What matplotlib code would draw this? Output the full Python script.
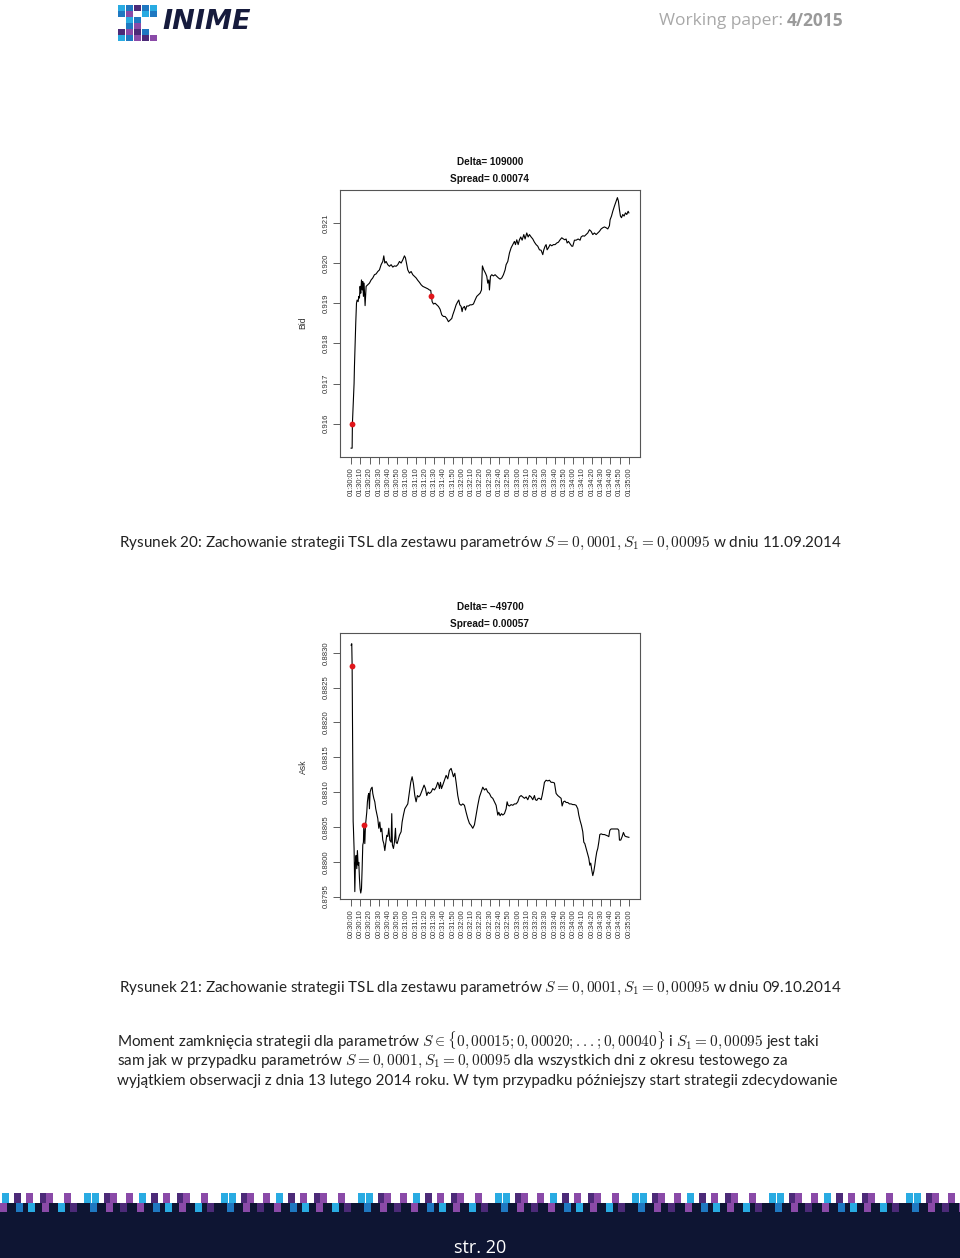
import matplotlib.pyplot as plt
from matplotlib.patches import Rectangle

plt.rcParams["mathtext.fontset"] = "cm"
plt.rcParams["font.family"] = ["Lato", "DejaVu Sans"]

# --- Rysunek 20: 11.09.2014, czas w sekundach od 01:30:00, kurs Bid ---
t_bid = [0, 1.1, 1.4, 2.5, 2.9, 3.2, 3.6, 4.3, 5.0, 5.8, 6.5, 7.6, 8.3, 9.0, 9.7, 10.4,
         11.2, 11.9, 12.6, 13.3, 14.0, 15.1, 16.2, 18.0, 19.8, 21.6, 23.4, 25.2, 27.0,
         28.8, 30.6, 32.4, 34.2, 35.3, 36.4, 37.8, 39.6, 41.4, 43.2, 45.0, 46.8, 48.6,
         50.4, 52.2, 54.0, 55.8, 57.6, 58.7, 60.1, 61.2, 63.0, 64.8, 66.6, 68.4, 70.2,
         72.0, 73.8, 75.6, 77.4, 79.2, 81.0, 82.8, 84.6, 86.0, 86.8, 87.5, 88.9, 90.7,
         92.5, 94.3, 96.1, 97.9, 99.7, 101.5, 103.3, 105.1, 106.9, 108.7, 109.8, 111.6,
         113.4, 115.2, 116.3, 117.4, 118.8, 119.9, 120.6, 122.4, 123.5, 124.9, 126.7,
         128.5, 130.3, 132.1, 133.9, 135.7, 137.5, 139.3, 140.8, 141.8, 143.3, 145.1,
         146.5, 147.6, 148.7, 149.4, 150.5, 151.9, 153.7, 155.5, 157.3, 159.1, 160.9,
         162.7, 164.5, 166.3, 167.4, 169.2, 171.0, 172.8, 174.6, 176.4, 177.5, 178.9,
         180.4, 181.8, 183.2, 184.7, 186.5, 187.9, 189.7, 191.2, 192.6, 194.4, 196.2,
         198.0, 199.8, 201.6, 203.4, 205.2, 207.0, 208.1, 209.5, 210.6, 211.7, 213.1,
         214.9, 216.7, 218.5, 220.3, 222.1, 223.9, 225.7, 227.5, 229.3, 230.8, 232.2,
         233.3, 234.7, 236.5, 238.3, 239.4, 241.2, 243.0, 245.2, 247.3, 248.4, 250.2,
         252.0, 253.8, 255.6, 257.4, 259.2, 261.0, 262.8, 264.6, 266.4, 268.2, 270.0,
         271.8, 273.6, 275.4, 277.2, 279.0, 279.7, 281.2, 282.6, 284.4, 286.2, 287.6,
         288.7, 289.8, 290.9, 292.0, 293.4, 294.8, 296.3, 297.7, 299.2, 300.0]
bid = [0.91539, 0.91539, 0.91600, 0.91658, 0.91683, 0.91700, 0.91742, 0.91800, 0.91850,
       0.91900, 0.91908, 0.91904, 0.91917, 0.91913, 0.91942, 0.91925, 0.91958, 0.91933,
       0.91954, 0.91917, 0.91950, 0.91894, 0.91942, 0.91946, 0.91950, 0.91958, 0.91963,
       0.91971, 0.91973, 0.91979, 0.91983, 0.91996, 0.92004, 0.92018, 0.92000, 0.92004,
       0.91996, 0.91992, 0.91996, 0.91990, 0.91993, 0.91992, 0.91996, 0.92004, 0.92000,
       0.92008, 0.92018, 0.92013, 0.91996, 0.91983, 0.91975, 0.91979, 0.91971, 0.91967,
       0.91963, 0.91957, 0.91952, 0.91946, 0.91942, 0.91940, 0.91938, 0.91936, 0.91933,
       0.91932, 0.91917, 0.91904, 0.91898, 0.91900, 0.91896, 0.91892, 0.91885, 0.91871,
       0.91867, 0.91867, 0.91862, 0.91854, 0.91858, 0.91862, 0.91871, 0.91883, 0.91896,
       0.91904, 0.91908, 0.91896, 0.91892, 0.91879, 0.91888, 0.91892, 0.91883, 0.91893,
       0.91893, 0.91896, 0.91896, 0.91898, 0.91908, 0.91917, 0.91921, 0.91925, 0.91933,
       0.91993, 0.91983, 0.91975, 0.91967, 0.91950, 0.91958, 0.91933, 0.91967, 0.91971,
       0.91968, 0.91971, 0.91967, 0.91963, 0.91960, 0.91963, 0.91971, 0.91983, 0.91996,
       0.92004, 0.92025, 0.92038, 0.92046, 0.92054, 0.92046, 0.92058, 0.92046, 0.92058,
       0.92065, 0.92057, 0.92071, 0.92060, 0.92075, 0.92065, 0.92071, 0.92065, 0.92060,
       0.92052, 0.92046, 0.92042, 0.92033, 0.92032, 0.92021, 0.92033, 0.92042, 0.92046,
       0.92033, 0.92038, 0.92046, 0.92043, 0.92046, 0.92046, 0.92050, 0.92052, 0.92058,
       0.92063, 0.92060, 0.92058, 0.92060, 0.92050, 0.92054, 0.92048, 0.92042, 0.92042,
       0.92057, 0.92057, 0.92060, 0.92057, 0.92065, 0.92068, 0.92067, 0.92071, 0.92075,
       0.92083, 0.92079, 0.92071, 0.92075, 0.92071, 0.92075, 0.92079, 0.92085, 0.92088,
       0.92090, 0.92088, 0.92085, 0.92093, 0.92108, 0.92117, 0.92129, 0.92142, 0.92154,
       0.92163, 0.92154, 0.92133, 0.92117, 0.92113, 0.92121, 0.92117, 0.92125, 0.92121,
       0.92129, 0.92125]
t_bid_pkt = [1.4, 86.8]
bid_pkt = [0.91600, 0.91917]
bid_ticks = [0.916, 0.917, 0.918, 0.919, 0.920, 0.921]
bid_ticklabels = ["0.916", "0.917", "0.918", "0.919", "0.920", "0.921"]
czas_bid = ["01:30:00", "01:30:10", "01:30:20", "01:30:30", "01:30:40", "01:30:50",
            "01:31:00", "01:31:10", "01:31:20", "01:31:30", "01:31:40", "01:31:50",
            "01:32:00", "01:32:10", "01:32:20", "01:32:30", "01:32:40", "01:32:50",
            "01:33:00", "01:33:10", "01:33:20", "01:33:30", "01:33:40", "01:33:50",
            "01:34:00", "01:34:10", "01:34:20", "01:34:30", "01:34:40", "01:34:50",
            "01:35:00"]

# --- Rysunek 21: 09.10.2014, czas w sekundach od 00:30:00, kurs Ask ---
t_ask = [0, 0.7, 1.1, 1.8, 2.2, 2.5, 3.2, 4.0, 4.7, 5.4, 6.1, 6.8, 7.6, 8.3, 9.0, 9.7,
         10.4, 11.2, 11.9, 12.6, 13.3, 13.7, 14.8, 15.5, 16.2, 16.9, 17.6, 18.4, 19.1,
         19.8, 20.5, 21.6, 22.7, 23.4, 24.5, 25.6, 26.6, 27.7, 28.8, 29.9, 31.0, 32.0,
         33.1, 34.2, 35.3, 36.4, 37.4, 38.5, 39.6, 40.7, 41.8, 43.2, 43.9, 44.6, 45.7,
         46.8, 47.9, 48.6, 49.7, 50.8, 52.2, 54.0, 55.1, 56.5, 58.0, 59.4, 61.2, 63.0,
         64.4, 65.9, 67.3, 68.8, 70.2, 71.6, 73.1, 74.5, 76.0, 77.4, 78.8, 80.3, 81.7,
         83.2, 84.6, 86.4, 88.2, 90.0, 91.8, 93.6, 94.7, 95.4, 96.5, 97.6, 99.0, 100.8,
         102.6, 104.4, 106.2, 108.0, 109.1, 110.5, 112.0, 113.4, 115.2, 117.0, 118.8,
         120.6, 122.4, 124.2, 126.0, 127.8, 129.6, 131.4, 133.2, 135.0, 136.8, 138.6,
         140.4, 142.2, 144.0, 145.8, 147.6, 149.4, 151.2, 153.0, 154.8, 156.6, 158.4,
         159.5, 160.9, 162.4, 163.8, 165.6, 167.4, 168.5, 169.6, 171.0, 172.8, 174.6,
         176.4, 178.2, 180.0, 181.8, 183.6, 185.4, 187.2, 189.0, 190.8, 192.6, 194.4,
         196.2, 198.0, 199.1, 200.5, 202.0, 203.4, 205.2, 206.3, 207.7, 208.8, 210.6,
         212.4, 214.2, 216.0, 217.8, 219.6, 221.4, 223.2, 225.0, 226.8, 227.9, 229.3,
         230.8, 232.2, 234.0, 235.8, 237.6, 239.4, 241.2, 243.0, 244.8, 245.9, 247.3,
         248.8, 250.2, 251.3, 252.4, 253.8, 255.2, 256.7, 257.8, 258.8, 259.9, 261.0,
         262.1, 263.2, 264.2, 265.3, 266.4, 267.5, 268.6, 270.0, 271.8, 273.6, 275.4,
         277.2, 278.3, 279.4, 280.8, 282.6, 284.4, 286.2, 288.0, 289.1, 289.8, 291.2,
         292.7, 294.1, 295.6, 297.0, 300.0]
ask = [0.88311, 0.88313, 0.88281, 0.88144, 0.88058, 0.88048, 0.88019, 0.87957, 0.87999,
       0.88009, 0.87990, 0.88016, 0.87995, 0.87999, 0.87976, 0.87961, 0.87955, 0.87961,
       0.87990, 0.88024, 0.88028, 0.88052, 0.88026, 0.88052, 0.88062, 0.88071, 0.88086,
       0.88095, 0.88098, 0.88076, 0.88100, 0.88105, 0.88107, 0.88098, 0.88091, 0.88086,
       0.88076, 0.88069, 0.88062, 0.88048, 0.88057, 0.88043, 0.88048, 0.88031, 0.88026,
       0.88016, 0.88026, 0.88038, 0.88036, 0.88048, 0.88031, 0.88028, 0.88069, 0.88024,
       0.88019, 0.88028, 0.88048, 0.88028, 0.88026, 0.88031, 0.88038, 0.88043, 0.88057,
       0.88067, 0.88076, 0.88079, 0.88083, 0.88100, 0.88114, 0.88122, 0.88112, 0.88095,
       0.88086, 0.88095, 0.88093, 0.88095, 0.88100, 0.88105, 0.88110, 0.88105, 0.88095,
       0.88100, 0.88098, 0.88100, 0.88105, 0.88103, 0.88107, 0.88114, 0.88110, 0.88105,
       0.88114, 0.88105, 0.88110, 0.88117, 0.88124, 0.88119, 0.88131, 0.88134, 0.88129,
       0.88122, 0.88127, 0.88114, 0.88095, 0.88083, 0.88081, 0.88083, 0.88081, 0.88071,
       0.88062, 0.88055, 0.88052, 0.88048, 0.88053, 0.88067, 0.88081, 0.88093, 0.88100,
       0.88107, 0.88103, 0.88105, 0.88100, 0.88098, 0.88093, 0.88091, 0.88086, 0.88081,
       0.88067, 0.88071, 0.88066, 0.88069, 0.88067, 0.88069, 0.88076, 0.88086, 0.88081,
       0.88080, 0.88082, 0.88081, 0.88083, 0.88083, 0.88086, 0.88093, 0.88095, 0.88093,
       0.88091, 0.88093, 0.88089, 0.88095, 0.88093, 0.88089, 0.88095, 0.88089, 0.88088,
       0.88091, 0.88091, 0.88089, 0.88095, 0.88105, 0.88114, 0.88117, 0.88116, 0.88117,
       0.88114, 0.88114, 0.88113, 0.88098, 0.88095, 0.88093, 0.88091, 0.88080, 0.88086,
       0.88087, 0.88085, 0.88085, 0.88083, 0.88083, 0.88082, 0.88082, 0.88081, 0.88076,
       0.88067, 0.88059, 0.88052, 0.88043, 0.88028, 0.88026, 0.88019, 0.88012, 0.88005,
       0.87995, 0.87998, 0.87988, 0.87980, 0.87986, 0.87995, 0.88005, 0.88014, 0.88019,
       0.88028, 0.88039, 0.88040, 0.88039, 0.88039, 0.88038, 0.88037, 0.88036, 0.88045,
       0.88047, 0.88047, 0.88047, 0.88047, 0.88047, 0.88045, 0.88031, 0.88031, 0.88036,
       0.88042, 0.88037, 0.88036, 0.88035]
t_ask_pkt = [1.4, 14.4]
ask_pkt = [0.88281, 0.88052]
ask_ticks = [0.8795, 0.8800, 0.8805, 0.8810, 0.8815, 0.8820, 0.8825, 0.8830]
ask_ticklabels = ["0.8795", "0.8800", "0.8805", "0.8810", "0.8815", "0.8820", "0.8825", "0.8830"]
czas_ask = ["00:30:00", "00:30:10", "00:30:20", "00:30:30", "00:30:40", "00:30:50",
            "00:31:00", "00:31:10", "00:31:20", "00:31:30", "00:31:40", "00:31:50",
            "00:32:00", "00:32:10", "00:32:20", "00:32:30", "00:32:40", "00:32:50",
            "00:33:00", "00:33:10", "00:33:20", "00:33:30", "00:33:40", "00:33:50",
            "00:34:00", "00:34:10", "00:34:20", "00:34:30", "00:34:40", "00:34:50",
            "00:35:00"]
sekundy = list(range(0, 301, 10))

NAVY = "#0e1533"
CYAN = "#29abe2"
BLUE = "#1f78c1"
PURPLE = "#8a4aa8"
DPURPLE = "#4c2a78"
TXT = "#222222"

fig = plt.figure(figsize=(9.6, 12.58), dpi=100)

# tlo strony w pikselach
pg = fig.add_axes([0, 0, 1, 1])
pg.set_xlim(0, 960)
pg.set_ylim(1258, 0)
pg.axis("off")


def wykres(pozycja, t, y, t_pkt, y_pkt, yticks, yticklabels, xlabels, ylim):
    ax = fig.add_axes(pozycja)
    ax.plot(t, y, color="black", lw=0.8)
    ax.plot(t_pkt, y_pkt, "o", color="#e0161b", ms=4.2, mec="none")
    ax.set_xlim(-12, 312)
    ax.set_ylim(*ylim)
    ax.set_xticks(sekundy)
    ax.set_xticklabels(xlabels, rotation=90, fontsize=5.3, color="#333333",
                       family="Liberation Sans")
    ax.set_yticks(yticks)
    ax.set_yticklabels(yticklabels, rotation=90, va="center", fontsize=5.6,
                       color="#333333", family="Liberation Sans")
    ax.tick_params(length=5, width=0.6, color="#444444", pad=2.5)
    for s in ax.spines.values():
        s.set_color("#555555")
        s.set_linewidth(0.8)
    return ax


ax1 = wykres([340 / 960, 1 - 457 / 1258, 300 / 960, 267 / 1258], t_bid, bid, t_bid_pkt,
             bid_pkt, bid_ticks, bid_ticklabels, czas_bid, (0.91517, 0.92182))
ax2 = wykres([340 / 960, 1 - 899.3 / 1258, 300 / 960, 266 / 1258], t_ask, ask, t_ask_pkt,
             ask_pkt, ask_ticks, ask_ticklabels, czas_ask, (0.87946, 0.88328))

# tytuly i opisy osi
for y0, tekst in [(162, "Delta= 109000"), (179, "Spread= 0.00074"),
                  (607, "Delta= \u221249700"), (624, "Spread= 0.00057")]:
    pg.text(490, y0, tekst, ha="center", va="center", fontsize=7.2, fontweight="bold",
            family="Liberation Sans", color="#111111")
pg.text(303, 323, "Bid", rotation=90, ha="center", va="center", fontsize=6.2,
        family="Liberation Sans", color="#333333")
pg.text(303, 767, "Ask", rotation=90, ha="center", va="center", fontsize=6.2,
        family="Liberation Sans", color="#333333")

# podpisy rysunkow
pg.text(480, 546.5, r"Rysunek 20: Zachowanie strategii TSL dla zestawu parametrów "
        r"$S = 0,0001, S_1 = 0,00095$ w dniu 11.09.2014",
        ha="center", va="baseline", fontsize=11, color=TXT)
pg.text(480, 991.5, r"Rysunek 21: Zachowanie strategii TSL dla zestawu parametrów "
        r"$S = 0,0001, S_1 = 0,00095$ w dniu 09.10.2014",
        ha="center", va="baseline", fontsize=11, color=TXT)

akapit = [
    r"Moment zamknięcia strategii dla parametrów $S \in \{0,00015; 0,00020; ...; 0,00040\}$"
    r" i $S_1 = 0,00095$ jest taki",
    r"sam jak w przypadku parametrów $S = 0,0001, S_1 = 0,00095$ dla wszystkich dni z okresu"
    r" testowego za",
    "wyjątkiem obserwacji z dnia 13 lutego 2014 roku. W tym przypadku późniejszy start"
    " strategii zdecydowanie",
]
for i, linia in enumerate(akapit):
    pg.text(117, 1045.5 + i * 19.5, linia, ha="left", va="baseline", fontsize=11, color=TXT)

# naglowek
logo = [(0, 0, CYAN), (1, 0, BLUE), (2, 0, DPURPLE), (3, 0, BLUE), (4, 0, CYAN),
        (0, 1, BLUE), (1, 1, PURPLE), (3, 1, CYAN), (4, 1, BLUE),
        (1, 2, CYAN), (2, 2, BLUE), (2, 3, PURPLE), (1, 3, BLUE),
        (0, 4, DPURPLE), (1, 4, PURPLE), (0, 5, CYAN), (1, 5, BLUE), (2, 5, PURPLE),
        (3, 5, DPURPLE), (4, 5, PURPLE), (2, 4, DPURPLE), (3, 4, BLUE)]
for cx, cy, col in logo:
    pg.add_patch(Rectangle((118 + cx * 8, 5 + cy * 6), 7, 5.5, color=col, lw=0))
pg.text(162, 22, "INIME", ha="left", va="center", fontsize=19.5, fontweight="bold",
        style="italic", color="#161b3d", family="DejaVu Sans")
b = pg.text(843, 21, "4/2015", ha="right", va="center", fontsize=12.5, fontweight="bold",
            color="#9a9a9a", family="Open Sans")
fig.canvas.draw()
bb = b.get_window_extent()
pg.text(bb.x0 * 960 / fig.bbox.width - 3, 21, "Working paper:", ha="right",
        va="center", fontsize=12.5, color="#a8a8a8", family="Open Sans")

# stopka
pg.add_patch(Rectangle((0, 1203), 960, 55, color=NAVY, lw=0))
wzor = [(2, 0, CYAN), (0, 1, PURPLE), (14, 0, DPURPLE), (16, 1, BLUE), (26, 0, PURPLE),
        (28, 1, CYAN), (40, 0, DPURPLE), (46, 0, PURPLE), (42, 1, PURPLE),
        (58, 1, CYAN), (64, 0, PURPLE), (70, 1, DPURPLE), (84, 0, CYAN), (92, 0, CYAN),
        (90, 1, BLUE), (104, 0, DPURPLE), (110, 0, PURPLE), (106, 1, PURPLE),
        (120, 1, DPURPLE), (126, 0, PURPLE)]
for k in range(8):
    for dx, row, col in wzor:
        pg.add_patch(Rectangle((k * 137 + dx, 1193 + row * 9.5), 6.5, 9.5, color=col, lw=0))
pg.text(480, 1248, "str. 20", ha="center", va="center", fontsize=13, color="white",
        family="Open Sans")

fig.savefig("out.png", dpi=100)
